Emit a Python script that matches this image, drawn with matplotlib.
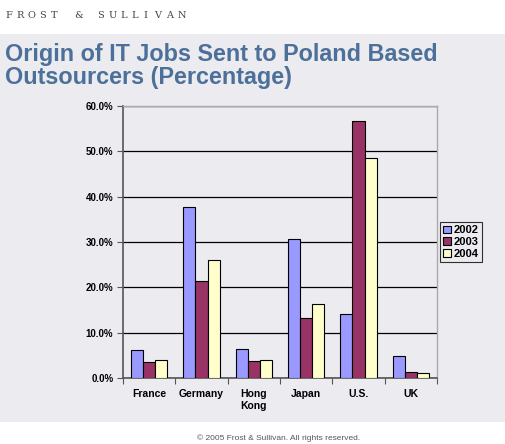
import matplotlib.pyplot as plt
import numpy as np
from matplotlib.patches import Rectangle

countries = ['France', 'Germany', 'Hong\nKong', 'Japan', 'U.S.', 'UK']
years = ['2002', '2003', '2004']
share_2002 = [6.2, 37.8, 6.4, 30.6, 14.1, 4.8]
share_2003 = [3.5, 21.5, 3.7, 13.2, 56.7, 1.4]
share_2004 = [4.0, 26.1, 3.9, 16.3, 48.6, 1.1]
colors = ['#9999FF', '#993366', '#FFFFCC']

plt.rcParams['font.family'] = ['Liberation Sans', 'DejaVu Sans']

W, H = 505, 444
fig = plt.figure(figsize=(W / 100, H / 100), dpi=100)
fig.patch.set_facecolor('white')

# grey panel behind title and chart
fig.patches.append(Rectangle((0, 1 - 422 / H), 1, (422 - 34) / H,
                             transform=fig.transFigure, facecolor='#ECEBF0',
                             edgecolor='none', zorder=-10))

# spaced-out logo text
logo = 'FROST & SULLIVAN'
px = 5
for ch in logo:
    if ch == ' ':
        px += 11.5
        continue
    fig.text(px / W, 1 - 15 / H, ch, fontsize=7, family='DejaVu Serif',
             color='#444444', va='center', ha='left')
    px += 11.5
fig.text(5 / W, 1 - 66 / H, 'Origin of IT Jobs Sent to Poland Based\nOutsourcers (Percentage)',
         fontsize=16.8, fontweight='bold', color='#4C7099', va='center', ha='left',
         linespacing=1.05)
fig.text(279 / W, 1 - 438 / H, '\u00a9 2005 Frost & Sullivan. All rights reserved.',
         fontsize=6, color='#555555', ha='center', va='center')

ax = fig.add_axes([123 / W, 1 - 378 / H, (437 - 123) / W, (378 - 106) / H])
ax.set_facecolor('none')

x = np.arange(len(countries))
w = 0.23
for i, (vals, c) in enumerate(zip([share_2002, share_2003, share_2004], colors)):
    ax.bar(x + (i - 1) * w, vals, w, color=c, edgecolor='black', linewidth=0.8,
           label=years[i], zorder=3)

ax.set_xlim(-0.5, len(countries) - 0.5)
ax.set_ylim(0, 60)
ax.set_yticks(np.arange(0, 61, 10))
ax.set_yticklabels(['%.1f%%' % v for v in np.arange(0, 61, 10)],
                   fontsize=7, fontweight='bold')
ax.yaxis.grid(True, color='black', linewidth=0.9, zorder=1)
ax.set_axisbelow(True)

ax.set_xticks(np.arange(-0.5, len(countries), 1))
ax.set_xticklabels([])
ax.set_xticks(x, minor=True)
ax.set_xticklabels(countries, minor=True, fontsize=7.5, fontweight='bold')
ax.tick_params(axis='x', which='minor', length=0, pad=8)
ax.tick_params(axis='x', which='major', length=4, color='#555555')
ax.tick_params(axis='y', length=4, color='#555555', pad=3)

for s in ['left', 'bottom']:
    ax.spines[s].set_color('#555555')
    ax.spines[s].set_linewidth(1.2)
for s in ['top', 'right']:
    ax.spines[s].set_color('#AAAAAA')
    ax.spines[s].set_linewidth(1.0)

leg = ax.legend(loc='center left', bbox_to_anchor=(1.01, 0.5), fontsize=8,
                frameon=True, fancybox=False, edgecolor='black',
                facecolor='#ECEBF0', handlelength=0.7, handleheight=0.7,
                handletextpad=0.2, borderpad=0.3, labelspacing=0.15,
                borderaxespad=0)
leg.get_frame().set_linewidth(0.8)
for t in leg.get_texts():
    t.set_fontweight('bold')

fig.savefig('out.png', dpi=100)
